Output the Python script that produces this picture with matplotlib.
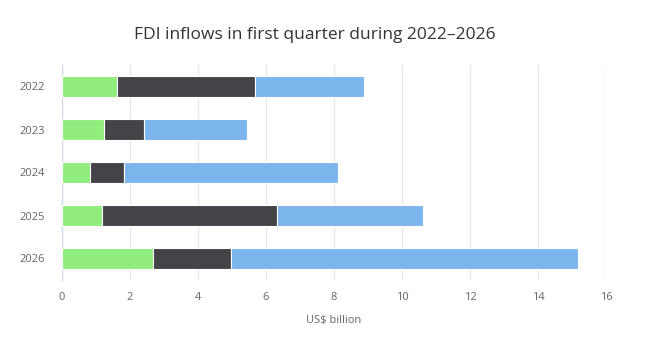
import numpy as np
import matplotlib.pyplot as plt

years = ["2022", "2023", "2024", "2025", "2026"]
green_vals = [1.61, 1.23, 0.82, 1.17, 2.67]
dark_vals = [4.08, 1.18, 0.99, 5.14, 2.29]
blue_vals = [3.19, 3.02, 6.32, 4.32, 10.21]
x_ticks = [0, 2, 4, 6, 8, 10, 12, 14, 16]

plt.rcParams["font.family"] = ["Open Sans", "DejaVu Sans"]

fig = plt.figure(figsize=(6.55, 3.37), dpi=100)
ax = fig.add_axes([62 / 655, 1 - 280 / 337, (606 - 62) / 655, (280 - 65) / 337])

y = np.arange(len(years))
green = np.array(green_vals)
dark = np.array(dark_vals)
blue = np.array(blue_vals)

kw = dict(height=0.48, edgecolor="white", linewidth=0.8, zorder=3)
ax.barh(y, green, color="#90ed7d", **kw)
ax.barh(y, dark, left=green, color="#434348", **kw)
ax.barh(y, blue, left=green + dark, color="#7cb5ec", **kw)

ax.set_ylim(len(years) - 0.5, -0.5)
ax.set_xlim(0, 16)
ax.set_yticks(y)
ax.set_yticklabels(years)
ax.set_xticks(x_ticks)
ax.set_xticklabels([str(t) for t in x_ticks])

ax.grid(axis="x", color="#e6e6e6", linewidth=1, zorder=0)
for s in ["top", "right", "bottom"]:
    ax.spines[s].set_visible(False)
ax.spines["left"].set_color("#ccd6eb")
ax.tick_params(axis="y", length=0, pad=12, labelsize=8, labelcolor="#666666")
ax.tick_params(axis="x", length=0, pad=9, labelsize=8, labelcolor="#666666")

ax.set_xlabel("US$ billion", fontsize=8, color="#666666", labelpad=8)
fig.text(315 / 655, 1 - 35 / 337, "FDI inflows in first quarter during 2022\u20132026",
         ha="center", va="center", fontsize=12.5, color="#333333")

fig.savefig("out.png", dpi=100, facecolor="white")
